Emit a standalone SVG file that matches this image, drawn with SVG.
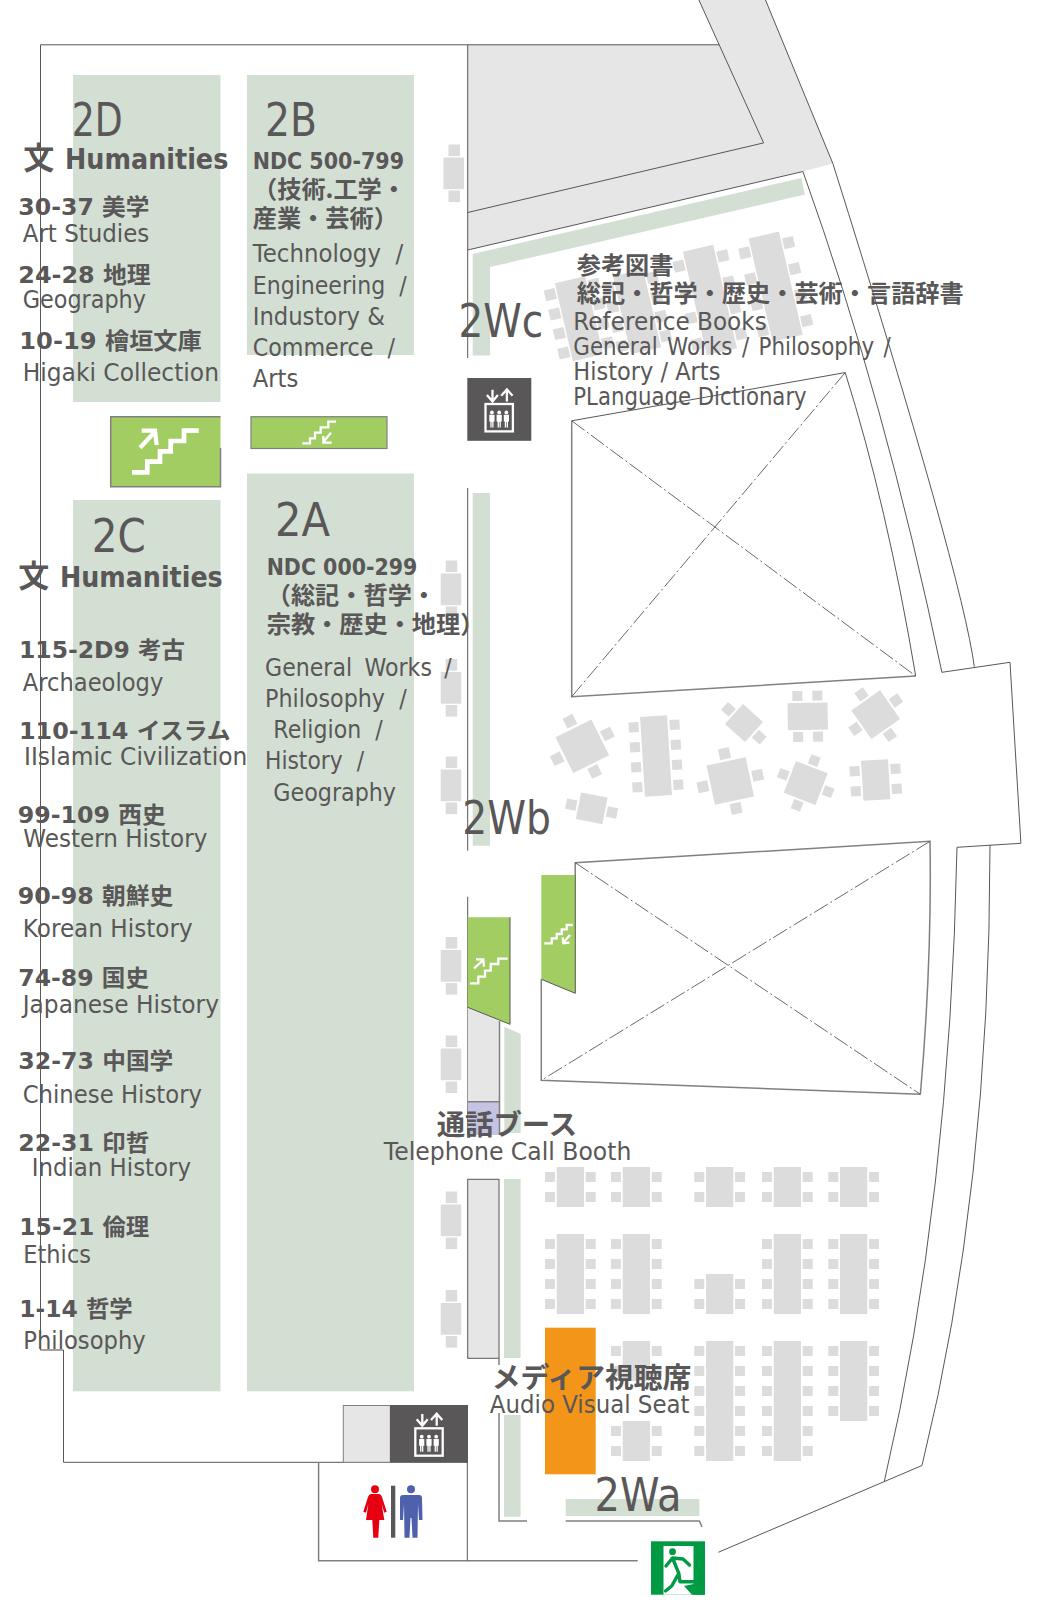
<svg xmlns="http://www.w3.org/2000/svg" width="1044" height="1616" viewBox="0 0 1044 1616">
<style>
text{fill:#595757;font-family:"DejaVu Sans","Noto Sans CJK JP",sans-serif;white-space:pre}
.r{font-size:25px}
.h{font-size:46px}
.b{font-size:23px;font-weight:700}
.j{font-size:24.2px;font-weight:700;font-family:"Noto Sans CJK JP",sans-serif}
.hu{font-size:29px;font-weight:700}
.l{fill:none;stroke:#595757;stroke-width:1}
.lg{fill:none;stroke:#808080;stroke-width:1.5}
.d{fill:none;stroke:#595757;stroke-width:.9;stroke-dasharray:16 3 2 3}
.sh{fill:#d3dfd3}
.w{fill:#e6e6e6}
.t{fill:#dcdcdc}
.st{fill:#a2cd63}
.wi{fill:none;stroke:#fff;stroke-width:2.3}
</style>
<defs>
<g id="bench" class="t"><rect x="0" y="13" width="20.5" height="31.7"/><rect x="5" y="0" width="11.5" height="11.6"/><rect x="5" y="46" width="11.5" height="11.6"/></g>
<g id="g2" class="t"><rect x="11.7" width="27.3" height="40"/><rect y="5" width="10" height="10"/><rect y="25" width="10" height="10"/><rect x="40.7" y="5" width="10" height="10"/><rect x="40.7" y="25" width="10" height="10"/></g>
<g id="g4"><use href="#g2"/><use href="#g2" y="40"/></g>
<g id="g6"><use href="#g4"/><use href="#g2" y="80"/></g>
<g id="s40" class="t"><rect x="-20" y="-20" width="40" height="40"/><rect x="-5.5" y="-33.5" width="11" height="11"/><rect x="22.5" y="-5.5" width="11" height="11"/><rect x="-5.5" y="22.5" width="11" height="11"/><rect x="-33.5" y="-5.5" width="11" height="11"/></g>
<g id="s34" class="t"><rect x="-17" y="-17" width="34" height="34"/><rect x="-5" y="-29" width="10" height="10"/><rect x="19" y="-5" width="10" height="10"/><rect x="-5" y="19" width="10" height="10"/><rect x="-29" y="-5" width="10" height="10"/></g>
<g id="s27" class="t"><rect x="-13.5" y="-13.5" width="27" height="27"/><rect x="-26" y="-5" width="10.5" height="10.5"/><rect x="15.5" y="-5" width="10.5" height="10.5"/></g>
<g id="m40" class="t"><rect x="-13.5" y="-20" width="27" height="40"/><rect x="-25.5" y="-15" width="10" height="10"/><rect x="-25.5" y="5" width="10" height="10"/><rect x="15.5" y="-15" width="10" height="10"/><rect x="15.5" y="5" width="10" height="10"/></g>
<g id="m80" class="t"><rect x="-13.5" y="-40" width="27" height="80"/><rect x="-25.5" y="-35" width="10" height="10"/><rect x="-25.5" y="-15" width="10" height="10"/><rect x="-25.5" y="5" width="10" height="10"/><rect x="-25.5" y="25" width="10" height="10"/><rect x="15.5" y="-35" width="10" height="10"/><rect x="15.5" y="-15" width="10" height="10"/><rect x="15.5" y="5" width="10" height="10"/><rect x="15.5" y="25" width="10" height="10"/></g>
<g id="r80" class="t"><rect x="-15.5" y="-40" width="31" height="80"/><rect x="-28" y="-35.5" width="11" height="11"/><rect x="-28" y="-15.5" width="11" height="11"/><rect x="-28" y="4.5" width="11" height="11"/><rect x="-28" y="24.5" width="11" height="11"/><rect x="17" y="-35.5" width="11" height="11"/><rect x="17" y="-15.5" width="11" height="11"/><rect x="17" y="4.5" width="11" height="11"/><rect x="17" y="24.5" width="11" height="11"/></g>
<g id="r107" class="t"><rect x="-15.5" y="-53" width="31" height="106"/><rect x="-28" y="-45.5" width="11" height="11"/><rect x="-28" y="-18.8" width="11" height="11"/><rect x="-28" y="7.8" width="11" height="11"/><rect x="-28" y="34.5" width="11" height="11"/><rect x="17" y="-45.5" width="11" height="11"/><rect x="17" y="-18.8" width="11" height="11"/><rect x="17" y="7.8" width="11" height="11"/><rect x="17" y="34.5" width="11" height="11"/></g>
<g id="person"><circle cx="0" cy="8.4" r="1.9" fill="#fff"/><path d="M-2.6,10.8H2.6V17.5H1.6V23.5H.3V18H-.3V23.5H-1.6V17.5H-2.6Z" fill="#fff"/></g>
<g id="ev"><rect x="0" y="0" width="27.4" height="27.4" fill="none" stroke="#fff" stroke-width="2.3"/><use href="#person" x="6.4"/><use href="#person" x="13.7"/><use href="#person" x="20.9"/><path class="wi" d="M7,-14.3V-2.6M1.4,-9L7,-2.6L12.4,-9M21.4,-2.6V-14.6M15.7,-8.3L21.4,-14.6L27,-8.3"/></g>
</defs>

<g id="building">
<polygon class="w" points="467.7,44.8 719.3,44.8 698.9,0 765.5,0 832.9,163.6 802.9,171.5 467.7,250"/>
<path class="l" d="M698.9,0L763.6,142.9L467.7,212.5"/>
<path class="l" d="M467.7,250L802.9,171.5"/>
<path class="l" d="M765.5,0L832.9,163.6Q962,574 974.3,666.7"/>
<path class="l" d="M802.9,171.5Q885,400 941.9,672.3L1010,662.3L1020.9,843.3L957,847.3Q950,1200 884.4,1481"/>
<path class="l" d="M990,845Q990,1190 922,1465.5L718.3,1552.3"/>
<path class="l" d="M40.5,1350V44.8H719.3M467.7,44.8V358M467.7,488V850.7M467.7,896.7V1135"/>
<path class="lg" d="M40.5,1350H63.5"/>
<path class="l" d="M63.5,1350V1462.3H468"/>
</g>

<g id="shelves">
<rect class="sh" x="73" y="75" width="147.5" height="327"/>
<rect class="sh" x="247" y="75" width="167" height="280"/>
<rect class="sh" x="73" y="500" width="147.5" height="891.3"/>
<rect class="sh" x="247" y="473.5" width="167" height="917.8"/>
<polygon class="sh" points="472.7,254 801.3,178 804.8,194.6 490,267 490,355.4 472.7,355.4"/>
<rect class="sh" x="472.7" y="493" width="17.3" height="352.7"/>
<polygon class="sh" points="504.3,1026.7 520.7,1034 520.7,1133 504.3,1133"/>
<rect class="sh" x="504" y="1179" width="16.6" height="179"/>
<rect class="sh" x="504" y="1415" width="16.6" height="101.7"/>
<rect class="sh" x="565.7" y="1499" width="133.7" height="17"/>
</g>

<g id="stairs">
<path class="st" d="M110.7,416.7H220.5V486.7H110.7Z"/>
<path class="lg" d="M220.5,416.7H110.7V486.7H220.5V448"/>
<path class="wi" style="stroke-width:4.7" d="M132,472.3H147.3V461.7H160V451.3H170.7V441H184V430.7H198.7"/>
<path class="wi" style="stroke-width:4.2" d="M140,447.7L155,431.7M141.7,430.7H155L156.7,445"/>
<rect class="st" x="251" y="416.7" width="136" height="31.8" stroke="#808080" stroke-width="1.2"/>
<path class="wi" d="M302.3,443.3H310V438.3H315V432.7H320.7V427.3H328.3V421.7H336M331,432.7L323.3,442M323.3,436V442.7H331.7"/>
<polygon class="w" points="467.7,1007.3 499.5,1021 499.5,1101.7 467.7,1101.7"/>
<rect x="467.7" y="1101.7" width="31.8" height="33.3" fill="#c4c4e2"/>
<path class="lg" d="M499.5,1021V1135M467.7,1101.7H499.5"/>
<polygon class="st" points="467.7,917.3 510,917.3 510,1024.3 467.7,1007.3"/>
<path class="l" d="M510,917.3V1024.3L467.7,1007.3"/>
<path class="wi" d="M470,983.3H478.3V976.7H485V970.7H490.7V964H498.3V958.7H507.7M474,968.3L483.3,960M476,959.3H483.3L484,966.7"/>
<polygon class="st" points="541.3,875 575.3,875 575.3,993.3 541.3,979.3"/>
<path class="l" d="M575.3,875V993.3L541.3,979.3"/>
<path class="wi" d="M544.3,943.3H551.7V938.3H556.7V934H561.7V929.3H566.7V925H572.7M570,935L563.3,942.7M562.7,937.3L563.3,943.3L569.3,942.7"/>
</g>

<g id="voids">
<path class="lg" d="M571.7,420.8V696.7L915.7,676"/>
<path class="l" d="M571.7,420.8L845.2,372.6Q887,505 915.7,676"/>
<path class="d" d="M571.7,420.8L915.7,676M845.2,372.6L571.7,696.7"/>
<path class="lg" d="M541.3,979.3V1080.3L920.4,1094.3M575.2,875V862.7L930,841.3Q932,960 920.4,1094.3"/>
<path class="d" d="M575.2,862.7L920.4,1094.3M930,841.3L541.3,1080.3"/>
</g>

<g id="benches">
<use href="#bench" x="443.5" y="144.5"/>
<use href="#bench" x="440.7" y="560.5"/>
<use href="#bench" x="440.7" y="659"/>
<use href="#bench" x="440.7" y="756.5"/>
<use href="#bench" x="440.7" y="937"/>
<use href="#bench" x="440.7" y="1035.5"/>
<use href="#bench" x="440.7" y="1191.5"/>
<use href="#bench" x="440.7" y="1290"/>
</g>

<g id="reference-tables">
<use href="#r80" transform="translate(579,318.7) rotate(-13)"/>
<use href="#r80" transform="translate(637,311.7) rotate(-13)"/>
<use href="#r107" transform="translate(710,300) rotate(-13)"/>
<use href="#r107" transform="translate(775.7,286.7) rotate(-13)"/>
</g>

<g id="cafe-tables">
<use href="#s40" transform="translate(582.3,746.3) rotate(-26.3)"/>
<use href="#m80" transform="translate(656,756) rotate(-3.5)"/>
<use href="#s27" transform="translate(744,723) rotate(42)"/>
<use href="#m40" transform="translate(807.7,716.3) rotate(89)"/>
<use href="#s34" transform="translate(875.7,714.7) rotate(-35) scale(1.03)"/>
<use href="#s40" transform="translate(730.3,781) rotate(-12)"/>
<use href="#s34" transform="translate(805.7,783) rotate(21)"/>
<use href="#m40" transform="translate(875.7,780) rotate(-3.5)"/>
<use href="#s27" transform="translate(591.7,808.3) rotate(11)"/>
</g>

<g id="av-tables">
<use href="#g2" x="545" y="1167"/><use href="#g2" x="611" y="1167"/><use href="#g2" x="694.3" y="1167"/><use href="#g2" x="762" y="1167"/><use href="#g2" x="828.3" y="1167"/>
<use href="#g4" x="545" y="1234"/><use href="#g4" x="611" y="1234"/><use href="#g2" x="694.3" y="1274"/><use href="#g4" x="762" y="1234"/><use href="#g4" x="828.3" y="1234"/>
<use href="#g2" x="611" y="1341"/><use href="#g2" x="611" y="1421"/><use href="#g6" x="694.3" y="1341"/><use href="#g6" x="762" y="1341"/><use href="#g4" x="828.3" y="1341"/>
<rect x="545" y="1327.7" width="50.7" height="146.6" fill="#f39519"/>
</g>

<g id="south-walls">
<rect class="w" x="467.7" y="1179.3" width="31.3" height="179" stroke="#595757" stroke-width="1"/>
<path class="lg" d="M499,1358V1365M499,1413V1521H527M565.7,1521H699.4L702,1527"/>
<path class="lg" d="M318.6,1462.3V1560.7H637.7"/>
<path class="l" d="M467.3,1462.3V1560.7"/>
</g>

<g id="elevator-north">
<rect x="467.3" y="378" width="64" height="62.8" fill="#595757"/>
<use href="#ev" x="485.5" y="404"/>
</g>
<g id="elevator-south">
<rect class="w" x="343.3" y="1405.5" width="47" height="56.8" stroke="#808080" stroke-width="1"/>
<rect x="390" y="1405" width="78" height="57.3" fill="#595757"/>
<use href="#ev" x="415.3" y="1428.3"/>
</g>
<g id="toilet">
<circle cx="375" cy="1489.3" r="4" fill="#e60012"/>
<path fill="#e60012" d="M371,1494H379Q381,1494 382,1497L386.7,1511.7L384.3,1512.7L381.7,1504L384.3,1520H379.3L378.3,1537.7H373.3L372.3,1520H366L368.3,1504L366,1512.7L363.3,1511.7L368,1497Q369,1494 371,1494Z"/>
<rect x="391" y="1485.7" width="4.3" height="52" fill="#595757"/>
<circle cx="411" cy="1489.3" r="4" fill="#4f61ad"/>
<path fill="#4f61ad" d="M403,1495H419Q422,1495 422,1498L422.5,1520H419L418,1504L417.5,1537.7H412.5L411.5,1518H410.5L409.5,1537.7H404.5L404,1504L403,1520H400V1498Q400,1495 403,1495Z"/>
</g>
<g id="exit">
<rect x="651" y="1541.3" width="54" height="53.4" fill="#009944"/>
<rect x="663.5" y="1546" width="30" height="48.7" fill="#fff"/>
<path fill="#009944" d="M693.5,1584L705,1594.7H692L684,1586Z"/>
<circle cx="672.5" cy="1551.7" r="3.4" fill="#009944"/>
<path fill="none" stroke="#009944" stroke-width="3.4" stroke-linecap="round" stroke-linejoin="round" d="M666,1566L672.5,1558L678.8,1573.3L680,1581.7H696M672.5,1558L683,1559L689.5,1565M678.8,1573.3L671.7,1586L665.5,1591"/>
</g>

<g id="labels">
<text class="h" x="71.7" y="136" textLength="51" lengthAdjust="spacingAndGlyphs">2D</text>
<text class="h" x="265" y="136" textLength="52" lengthAdjust="spacingAndGlyphs">2B</text>
<text class="h" x="91.7" y="551.7" textLength="54" lengthAdjust="spacingAndGlyphs">2C</text>
<text class="h" x="275" y="536" textLength="55" lengthAdjust="spacingAndGlyphs">2A</text>
<text class="h" x="458.5" y="336.8" textLength="84.7" lengthAdjust="spacingAndGlyphs">2Wc</text>
<text class="h" x="462.3" y="834.3" textLength="88.7" lengthAdjust="spacingAndGlyphs">2Wb</text>
<text class="h" x="594.6" y="1510.7" textLength="87" lengthAdjust="spacingAndGlyphs">2Wa</text>

<text class="hu" y="168.7"><tspan x="23.3" style="font-size:31px">文 </tspan><tspan x="65" textLength="163.3" lengthAdjust="spacingAndGlyphs">Humanities</tspan></text>
<text class="b" x="18.3" y="215" textLength="131" lengthAdjust="spacingAndGlyphs">30-37 美学</text>
<text class="r" x="22.7" y="241.7" textLength="126.6" lengthAdjust="spacingAndGlyphs">Art Studies</text>
<text class="b" x="18.3" y="283" textLength="132.4" lengthAdjust="spacingAndGlyphs">24-28 地理</text>
<text class="r" x="22.7" y="308.2" textLength="123.3" lengthAdjust="spacingAndGlyphs">Geography</text>
<text class="b" x="19.3" y="348.5" textLength="182.4" lengthAdjust="spacingAndGlyphs">10-19 檜垣文庫</text>
<text class="r" x="22.7" y="380.5" textLength="196.3" lengthAdjust="spacingAndGlyphs">Higaki Collection</text>

<text class="b" x="252.7" y="168.7" textLength="151.3" lengthAdjust="spacingAndGlyphs">NDC 500-799</text>
<text class="j" x="253" y="198">（技術.工学・</text>
<text class="j" x="252.7" y="227.3">産業・芸術）</text>
<text class="r" x="252.7" y="262.4" textLength="150.6" lengthAdjust="spacingAndGlyphs" word-spacing="8">Technology /</text>
<text class="r" x="252.7" y="294.4" textLength="154" lengthAdjust="spacingAndGlyphs" word-spacing="8">Engineering /</text>
<text class="r" x="252.7" y="325.4" textLength="132.3" lengthAdjust="spacingAndGlyphs">Industory &amp;</text>
<text class="r" x="252.7" y="356.4" textLength="142.3" lengthAdjust="spacingAndGlyphs" word-spacing="8">Commerce /</text>
<text class="r" x="252.7" y="386.7" textLength="45.6" lengthAdjust="spacingAndGlyphs">Arts</text>

<text class="j" x="576.7" y="273.8">参考図書</text>
<text class="j" x="576.7" y="302.3">総記・哲学・歴史・芸術・言語辞書</text>
<text class="r" x="573.3" y="329.9" textLength="193.4" lengthAdjust="spacingAndGlyphs">Reference Books</text>
<text class="r" x="573.3" y="354.7" textLength="317.4" lengthAdjust="spacingAndGlyphs" word-spacing="3">General Works / Philosophy /</text>
<text class="r" x="573.3" y="379.8" textLength="147.1" lengthAdjust="spacingAndGlyphs">History / Arts</text>
<text class="r" x="573.3" y="404.6" textLength="233.4" lengthAdjust="spacingAndGlyphs">PLanguage Dictionary</text>

<text class="hu" y="587.3"><tspan x="18.3" style="font-size:31px">文 </tspan><tspan x="60" textLength="162.7" lengthAdjust="spacingAndGlyphs">Humanities</tspan></text>
<text class="b" x="19" y="657.7" textLength="166" lengthAdjust="spacingAndGlyphs">115-2D9 考古</text>
<text class="r" x="22.7" y="690.7" textLength="140.6" lengthAdjust="spacingAndGlyphs">Archaeology</text>
<text class="b" x="19" y="739.3" textLength="211.7" lengthAdjust="spacingAndGlyphs">110-114 イスラム</text>
<text class="r" x="24" y="765" textLength="223.3" lengthAdjust="spacingAndGlyphs">IIslamic Civilization</text>
<text class="b" x="17.7" y="822.7" textLength="148" lengthAdjust="spacingAndGlyphs">99-109 西史</text>
<text class="r" x="23.3" y="847.3" textLength="184" lengthAdjust="spacingAndGlyphs">Western History</text>
<text class="b" x="17.7" y="904.3" textLength="155.6" lengthAdjust="spacingAndGlyphs">90-98 朝鮮史</text>
<text class="r" x="22.7" y="936.7" textLength="170" lengthAdjust="spacingAndGlyphs">Korean History</text>
<text class="b" x="18.3" y="986" textLength="130.7" lengthAdjust="spacingAndGlyphs">74-89 国史</text>
<text class="r" x="22.7" y="1013.3" textLength="196.3" lengthAdjust="spacingAndGlyphs">Japanese History</text>
<text class="b" x="18.3" y="1069.3" textLength="155" lengthAdjust="spacingAndGlyphs">32-73 中国学</text>
<text class="r" x="22.7" y="1102.7" textLength="179.3" lengthAdjust="spacingAndGlyphs">Chinese History</text>
<text class="b" x="18.3" y="1151" textLength="131" lengthAdjust="spacingAndGlyphs">22-31 印哲</text>
<text class="r" x="31.7" y="1175.7" textLength="159.3" lengthAdjust="spacingAndGlyphs">Indian History</text>
<text class="b" x="19.3" y="1235" textLength="130" lengthAdjust="spacingAndGlyphs">15-21 倫理</text>
<text class="r" x="23.3" y="1263.3" textLength="67.7" lengthAdjust="spacingAndGlyphs">Ethics</text>
<text class="b" x="19.3" y="1316.7" textLength="113.4" lengthAdjust="spacingAndGlyphs">1-14 哲学</text>
<text class="r" x="23.3" y="1349.3" textLength="122.4" lengthAdjust="spacingAndGlyphs">Philosophy</text>

<text class="b" x="266.7" y="575" textLength="150.6" lengthAdjust="spacingAndGlyphs">NDC 000-299</text>
<text class="j" x="266.7" y="604.3">（総記・哲学・</text>
<text class="j" x="266.7" y="633.3">宗教・歴史・地理）</text>
<text class="r" x="265" y="675.7" textLength="186.7" lengthAdjust="spacingAndGlyphs" word-spacing="6">General Works /</text>
<text class="r" x="265" y="706.7" textLength="141.7" lengthAdjust="spacingAndGlyphs" word-spacing="8">Philosophy /</text>
<text class="r" x="273.3" y="738.3" textLength="109.4" lengthAdjust="spacingAndGlyphs" word-spacing="8">Religion /</text>
<text class="r" x="265" y="769.3" textLength="99" lengthAdjust="spacingAndGlyphs" word-spacing="8">History /</text>
<text class="r" x="273.3" y="801" textLength="122.7" lengthAdjust="spacingAndGlyphs">Geography</text>

<text class="j" style="font-size:28.4px" x="436.7" y="1135">通話ブース</text>
<text class="r" x="383.8" y="1160" textLength="247.6" lengthAdjust="spacingAndGlyphs">Telephone Call Booth</text>
<text class="j" style="font-size:28.8px" x="491.8" y="1388.3">メディア視聴席</text>
<text class="r" x="489.8" y="1413.3" textLength="199.7" lengthAdjust="spacingAndGlyphs">Audio Visual Seat</text>
</g>
</svg>
